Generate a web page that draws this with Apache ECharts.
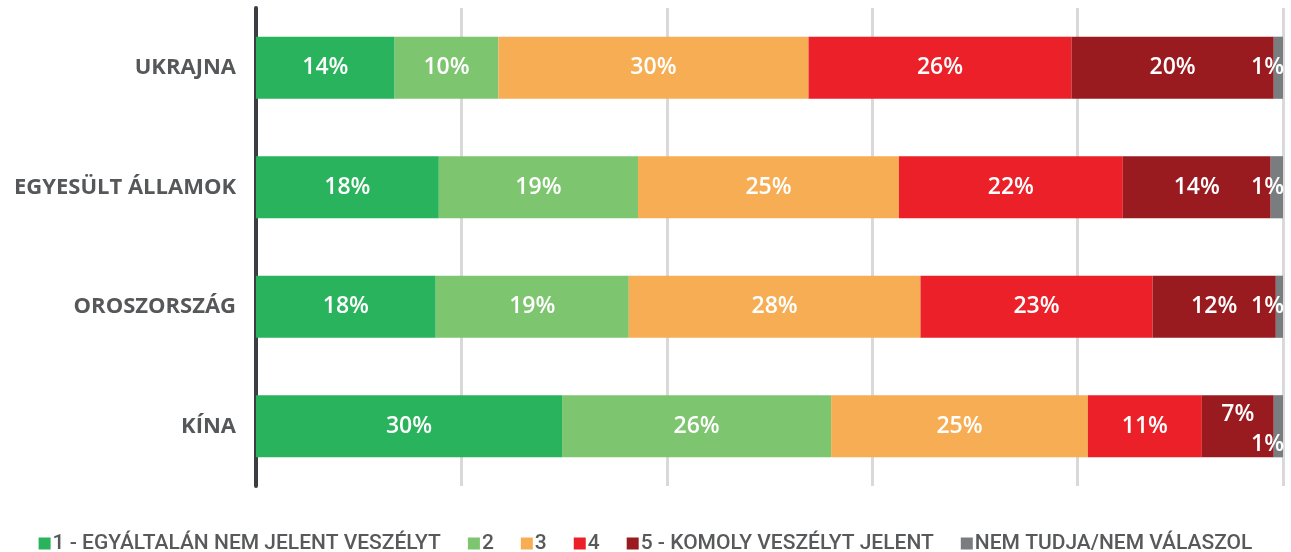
<!DOCTYPE html>
<html>
<head>
<meta charset="utf-8">
<script src="https://cdn.jsdelivr.net/npm/echarts@6/dist/echarts.min.js"></script>
<style>
  html, body { margin: 0; padding: 0; background: #fff; }
  #chart { width: 1291px; height: 552px; }
</style>
</head>
<body>
<div id="chart"></div>
<script>
// országok (felülről lefelé)
const categories = ['UKRAJNA', 'EGYESÜLT ÁLLAMOK', 'OROSZORSZÁG', 'KÍNA'];
const seriesNames = ['1 - EGYÁLTALÁN NEM JELENT VESZÉLYT', '2', '3', '4', '5 - KOMOLY VESZÉLYT JELENT', 'NEM TUDJA/NEM VÁLASZOL'];
const colors = ['#29b35c', '#7dc56f', '#f7ad53', '#ec2028', '#9a1b1f', '#7a7d80'];

// százalékok, országonként a categories sorrendjében
const val1 = [13.5, 17.8, 17.5, 29.8];
const val2 = [10.1, 19.4, 18.8, 26.2];
const val3 = [30.2, 25.4, 28.4, 25.0];
const val4 = [25.6, 21.8, 22.6, 11.1];
const val5 = [19.7, 14.4, 12.0, 7.0];
const valNT = [0.9, 1.2, 0.7, 0.9];
const allValues = [val1, val2, val3, val4, val5, valNT];

const chart = echarts.init(document.getElementById('chart'));

const labelBase = {
    show: true,
    color: '#fff',
    fontFamily: 'Open Sans',
    fontWeight: 600,
    fontSize: 23,
    formatter: p => Math.round(p.value) + '%'
};

const series = allValues.map((vals, i) => {
    const data = vals.map((v, j) => {
        const item = { value: v };
        // kis szeletek címkéi
        if (i === 5) {
            item.label = { position: 'insideRight', offset: j === 3 ? [6, 18] : [6, 0] };
        }
        if (i === 4 && j === 3) {
            item.label = { offset: [0, -12] };
        }
        return item;
    });
    return {
        name: seriesNames[i],
        type: 'bar',
        stack: 'total',
        barWidth: '52%',
        itemStyle: { color: colors[i] },
        label: labelBase,
        data: data
    };
});

chart.setOption({
    animation: false,
    grid: { left: 256, right: 8, top: 8, bottom: 66 },
    legend: {
        top: 528,
        left: 'center',
        icon: 'rect',
        itemWidth: 12,
        itemHeight: 12,
        itemGap: 27,
        textStyle: { color: '#58595b', fontFamily: 'Roboto, sans-serif', fontWeight: 500, fontSize: 21, padding: [0, 0, 0, -3] },
        data: seriesNames
    },
    xAxis: {
        type: 'value',
        min: 0,
        max: 100,
        interval: 20,
        axisLabel: { show: false },
        axisLine: { show: false },
        axisTick: { show: false },
        splitLine: { lineStyle: { color: '#d9d9d9', width: 3 } }
    },
    yAxis: {
        type: 'category',
        inverse: true,
        data: categories,
        axisLine: { show: true, lineStyle: { color: '#3a3d42', width: 4 } },
        axisTick: { show: false },
        axisLabel: {
            margin: 20,
            color: '#555759',
            fontFamily: 'Open Sans',
            fontWeight: 'bold',
            fontSize: 22
        }
    },
    series: series
});
</script>
</body>
</html>
